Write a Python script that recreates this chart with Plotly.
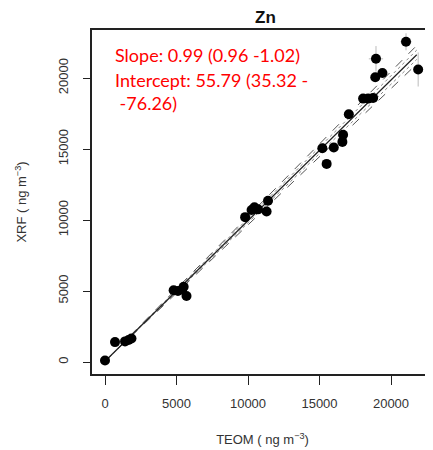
import plotly.graph_objects as go

# TEOM vs XRF Zn concentrations (ng m-3)
teom = [0, 700, 1400, 1650, 1850, 4800, 5100, 5400, 5500, 5700,
        9800, 10250, 10450, 10700, 11300, 11400,
        15200, 15500, 16000, 16600, 16650, 17050,
        18050, 18400, 18750, 18900, 19400, 18950, 21050, 21900]
xrf = [100, 1400, 1450, 1550, 1650, 5050, 5000, 5100, 5300, 4650,
       10200, 10700, 10900, 10750, 10600, 11350,
       15050, 13950, 15100, 15500, 16000, 17450,
       18550, 18550, 18600, 20050, 20350, 21350, 22550, 20600]
xrf_err = [0, 0, 0, 0, 0, 0, 0, 0, 0, 0,
           0, 0, 0, 0, 0, 0,
           0, 0, 0, 0, 0, 0,
           0, 0, 0, 0, 0, 900, 600, 1200]
teom_err = [0, 0, 0, 0, 0, 0, 0, 0, 0, 0,
            0, 0, 0, 0, 0, 0,
            0, 0, 0, 0, 0, 0,
            0, 0, 0, 0, 0, 500, 400, 0]

slope = 0.99
intercept = 55.79
slope_lo, slope_hi = 0.96, 1.02
fit_x = [0, 21800]

x_ticks = [0, 5000, 10000, 15000, 20000]
x_ticklabels = ["0", "5000", "10000", "15000", "20000"]
y_ticks = [0, 5000, 10000, 15000, 20000]
y_ticklabels = ["0", "5000", "10000", "15000", "20000"]

stats_lines = ["Slope: 0.99 (0.96 -1.02)",
               "Intercept: 55.79 (35.32 -",
               " -76.26)"]

fig = go.Figure()

# confidence band (dashed) and inner band (dotted)
for s in [slope_lo, slope_hi]:
    fig.add_trace(go.Scatter(x=fit_x, y=[s * v + intercept for v in fit_x], mode="lines",
                             line=dict(color="#555", width=1, dash="dash"),
                             hoverinfo="skip", showlegend=False))
for s in [0.975, 1.005]:
    fig.add_trace(go.Scatter(x=fit_x, y=[s * v + intercept for v in fit_x], mode="lines",
                             line=dict(color="#888", width=1, dash="dot"),
                             hoverinfo="skip", showlegend=False))
fig.add_trace(go.Scatter(x=fit_x, y=[slope * v + intercept for v in fit_x], mode="lines",
                         line=dict(color="#222", width=1.2),
                         hoverinfo="skip", showlegend=False))

fig.add_trace(go.Scatter(
    x=teom, y=xrf, mode="markers",
    marker=dict(color="black", size=10),
    error_y=dict(type="data", array=xrf_err, color="#bbb", thickness=1, width=0),
    error_x=dict(type="data", array=teom_err, color="#bbb", thickness=1, width=0),
    showlegend=False,
))

fig.add_annotation(x=0.51, y=1.0, xref="paper", yref="paper", yanchor="bottom",
                   yshift=1, text="<b>Zn</b>", showarrow=False,
                   font=dict(family="Liberation Sans", size=17, color="#111"))

line_y = [55, 80, 103]
for txt, py in zip(stats_lines, line_y):
    fig.add_annotation(x=0.062, y=1 - (py - 30) / 344, xref="paper", yref="paper",
                       xanchor="left", yanchor="middle", text=txt, showarrow=False,
                       font=dict(family="Lato", size=18, color="#ff0000"))

axis_font = dict(family="Liberation Sans", size=13, color="#333")
fig.update_xaxes(range=[-909, 22937], tickvals=x_ticks, ticktext=x_ticklabels,
                 ticks="outside", ticklen=9, automargin=False,
                 tickcolor="#222", showline=True, linecolor="#222", linewidth=1.5,
                 mirror=True, showgrid=False, zeroline=False, tickfont=axis_font,
                 ticklabelstandoff=8,
                 title=dict(text="TEOM ( ng m<sup>−3</sup>)", font=axis_font, standoff=25))
fig.update_yaxes(range=[-845, 23380], tickvals=y_ticks, ticktext=y_ticklabels,
                 ticks="outside", ticklen=7, automargin=False,
                 tickcolor="#222", showline=True, linecolor="#222", linewidth=1.5,
                 showgrid=False, zeroline=False, tickfont=axis_font, tickangle=-90,
                 ticklabelstandoff=10,
                 title=dict(text="XRF ( ng m<sup>−3</sup>)", font=axis_font, standoff=26))

# the page body adds an 8px margin, so the figure is sized to fill the rest
fig.update_layout(width=425, height=442, margin=dict(l=84, r=0, t=22, b=76),
                  plot_bgcolor="white", paper_bgcolor="white")

fig.write_html("out.html")
